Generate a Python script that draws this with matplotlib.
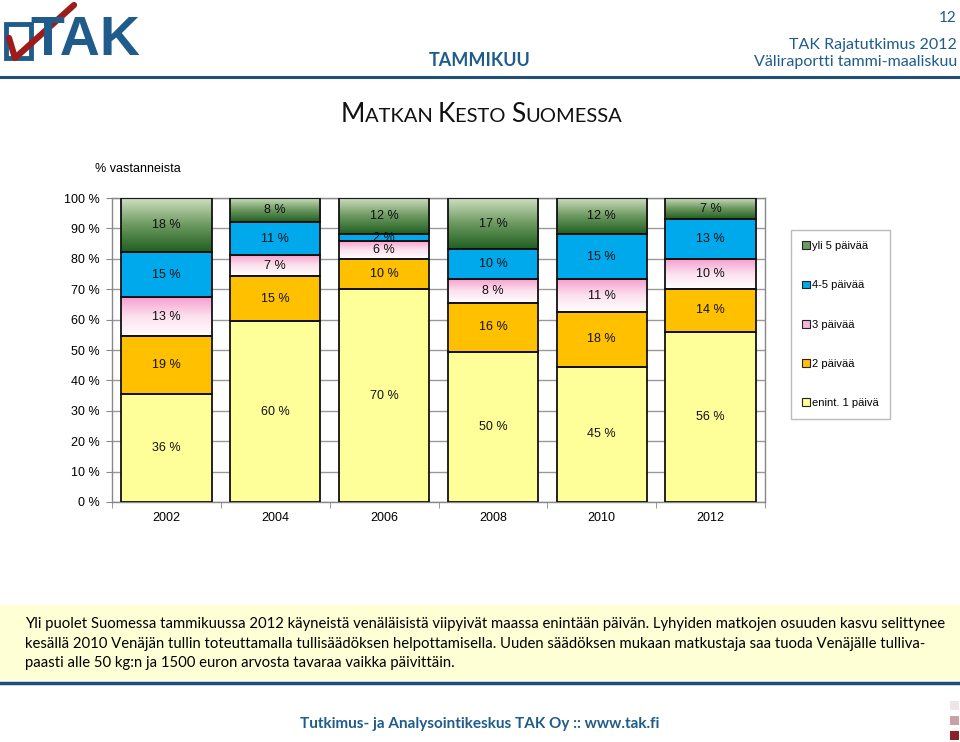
import matplotlib
matplotlib.use("Agg")
import matplotlib.pyplot as plt
import numpy as np
from matplotlib.patches import Patch, Rectangle
from matplotlib.colors import LinearSegmentedColormap
from matplotlib.lines import Line2D

years = ["2002", "2004", "2006", "2008", "2010", "2012"]
series_names = ["enint. 1 päivä", "2 päivää", "3 päivää", "4-5 päivää", "yli 5 päivää"]
enint1 = [36, 60, 70, 50, 45, 56]
paiva2 = [19, 15, 10, 16, 18, 14]
paiva3 = [13, 7, 6, 8, 11, 10]
paiva45 = [15, 11, 2, 10, 15, 13]
yli5 = [18, 8, 12, 17, 12, 7]
yticks_labels = ["0 %", "10 %", "20 %", "30 %", "40 %", "50 %", "60 %", "70 %", "80 %", "90 %", "100 %"]

BLUE = "#1F5C8B"
W, H = 960, 742

fig = plt.figure(figsize=(9.6, 7.42), dpi=100)

def fx(x):
    return x / W

def fy(y):
    return 1 - y / H

ax = fig.add_axes([fx(112), fy(502), (765 - 112) / W, (502 - 198) / H])

data = np.array([enint1, paiva2, paiva3, paiva45, yli5], dtype=float)
totals = data.sum(axis=0)
norm = data / totals * 100

x = np.arange(len(years))
width = 0.83
solid_colors = ["#FFFF99", "#FFC000", None, "#00A9EC", None]
legend_colors = ["#FFFF99", "#FFC000", "#F4B6D6", "#00A9EC", "#6E9A62"]
grad_maps = {
    2: LinearSegmentedColormap.from_list("pink", ["#FFFFFF", "#FBE0EE", "#F79ACB"]),
    4: LinearSegmentedColormap.from_list("green", ["#1F5F1F", "#6E9A62", "#D2E2C4"]),
}

bottom = np.zeros(len(years))
for i in range(5):
    vals = norm[i]
    if solid_colors[i] is not None:
        ax.bar(x, vals, width, bottom=bottom, color=solid_colors[i], edgecolor="none", zorder=2)
    else:
        bars = ax.bar(x, vals, width, bottom=bottom, color="none", edgecolor="none", zorder=2)
        grad = np.linspace(0, 1, 256).reshape(-1, 1)
        for b in bars:
            bx, by = b.get_x(), b.get_y()
            bw, bh = b.get_width(), b.get_height()
            im = ax.imshow(grad, cmap=grad_maps[i], origin="lower", aspect="auto",
                           extent=[bx, bx + bw, by, by + bh], zorder=2)
            im.set_clip_path(b)
    ax.bar(x, vals, width, bottom=bottom, color="none", edgecolor="#111111", linewidth=1.3, zorder=3)
    for j in range(len(years)):
        ax.text(x[j], bottom[j] + vals[j] / 2, f"{int(data[i][j])} %", ha="center", va="center",
                fontsize=9, family="Liberation Sans", color="#111111", zorder=4)
    bottom = bottom + vals

ax.set_xlim(-0.5, len(years) - 0.5)
ax.set_ylim(0, 100)
ax.set_yticks(np.arange(0, 101, 10))
ax.set_yticklabels(yticks_labels, fontsize=9, family="Liberation Sans")
ax.set_xticks(x)
ax.set_xticklabels(years, fontsize=9, family="Liberation Sans")
ax.tick_params(axis="x", length=0, pad=7)
ax.set_xticks(np.arange(-0.5, len(years), 1), minor=True)
ax.tick_params(axis="x", which="minor", length=4, color="#888888")
ax.tick_params(axis="y", length=4, color="#888888", pad=5)
ax.grid(axis="y", color="#999999", linewidth=1, zorder=0)
ax.set_axisbelow(True)
for s in ax.spines.values():
    s.set_color("#888888")
    s.set_linewidth(1)

# Legend
handles = [Patch(facecolor=legend_colors[i], edgecolor="#222222", linewidth=0.8) for i in range(5)][::-1]
labels = series_names[::-1]
leg = fig.legend(handles, labels, loc="upper left", bbox_to_anchor=(fx(791), fy(230)),
                 frameon=True, fancybox=False, edgecolor="#AAAAAA",
                 prop={"family": "Liberation Sans", "size": 8}, handlelength=0.7, handleheight=0.7,
                 handletextpad=0.2, labelspacing=2.63, borderpad=1.0, borderaxespad=0)
leg.get_frame().set_linewidth(1)

# Header
fig.add_artist(Line2D([0, 1], [fy(77), fy(77)], color="#1F4E79", linewidth=2.2))
fig.text(fx(480), fy(60), "TAMMIKUU", ha="center", va="center", fontsize=13, fontweight="bold",
         color=BLUE, family="Lato")
fig.text(fx(957), fy(18), "12", ha="right", va="center", fontsize=11, color=BLUE, family="Lato")
fig.text(fx(957), fy(45), "TAK Rajatutkimus 2012", ha="right", va="center", fontsize=11.5, color=BLUE, family="Lato")
fig.text(fx(957), fy(62), "Väliraportti tammi-maaliskuu", ha="right", va="center", fontsize=11.5, color=BLUE, family="Lato")

# Logo approximation
fig.add_artist(Rectangle((fx(6), fy(58)), fx(25), (58 - 24) / H, fill=False, edgecolor=BLUE, linewidth=3.5))
fig.text(fx(30), fy(41), "TAK", ha="left", va="center", fontsize=40, fontweight="black",
         color=BLUE, family="Liberation Sans")
fig.add_artist(Line2D([fx(9), fx(15), fx(74)], [fy(38), fy(58), fy(5)], color="#9E1B1B", linewidth=4.5,
                      solid_capstyle="round"))

# Title in small caps
renderer = fig.canvas.get_renderer()
parts = [("M", 19), ("ATKAN ", 14.5), ("K", 19), ("ESTO ", 14.5), ("S", 19), ("UOMESSA", 14.5)]
texts = []
for s, size in parts:
    t = fig.text(0, fy(122), s, ha="left", va="baseline", fontsize=size, family="Lato", color="#111111")
    texts.append(t)
widths = [t.get_window_extent(renderer).width for t in texts]
total = sum(widths)
cur = 481 - total / 2
for t, w in zip(texts, widths):
    t.set_x(fx(cur))
    cur += w

fig.text(fx(95), fy(169), "% vastanneista", ha="left", va="center", fontsize=9, family="Liberation Sans")

# Yellow text box
fig.add_artist(Rectangle((0, fy(680)), 1, (680 - 605) / H, facecolor="#FFFFD6", edgecolor="none", zorder=0))
fig.add_artist(Line2D([0, 1], [fy(683), fy(683)], color="#1F4E79", linewidth=2.5))
lines = [
    "Yli puolet Suomessa tammikuussa 2012 käyneistä venäläisistä viipyivät maassa enintään päivän. Lyhyiden matkojen osuuden kasvu selittynee",
    "kesällä 2010 Venäjän tullin toteuttamalla tullisäädöksen helpottamisella. Uuden säädöksen mukaan matkustaja saa tuoda Venäjälle tulliva-",
    "paasti alle 50 kg:n ja 1500 euron arvosta tavaraa vaikka päivittäin.",
]
ys = [624, 644, 663]
t0 = fig.text(fx(25), fy(ys[0]), lines[0], ha="left", va="center", fontsize=10, family="Lato")
w0 = t0.get_window_extent(renderer).width
size = 10 * (942 - 25) / w0
t0.set_fontsize(size)
for ln, yy in zip(lines[1:], ys[1:]):
    fig.text(fx(25), fy(yy), ln, ha="left", va="center", fontsize=size, family="Lato")

# Footer
fig.text(fx(480), fy(724), "Tutkimus- ja Analysointikeskus TAK Oy :: www.tak.fi", ha="center", va="center",
         fontsize=11, fontweight="bold", color=BLUE, family="Lato")
for yy, c in [(705, "#EFE4E8"), (720, "#C9A0A6"), (735, "#8E1F24")]:
    fig.add_artist(Rectangle((fx(950), fy(yy + 5)), fx(9), 9 / H, facecolor=c, edgecolor="none"))

fig.savefig("out.png", dpi=100)
